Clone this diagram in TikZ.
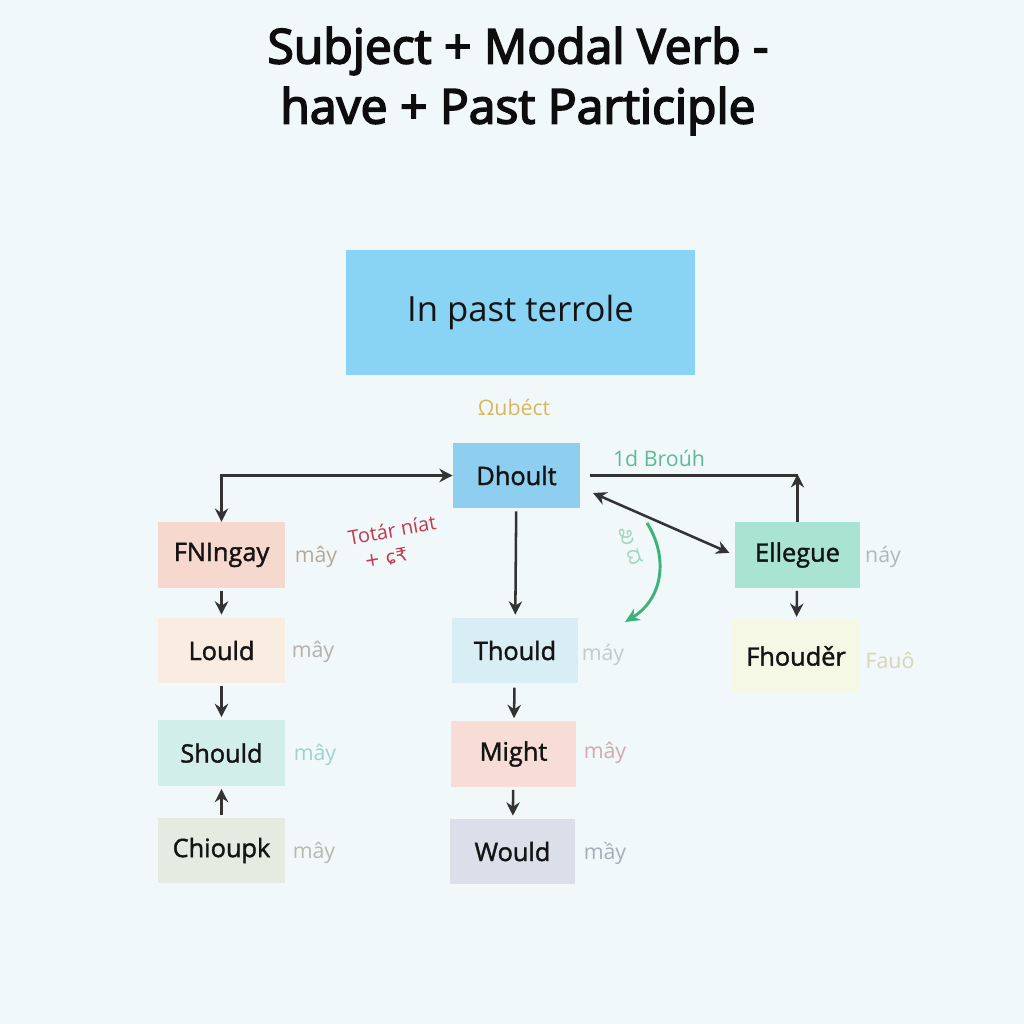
\documentclass[tikz,border=0pt]{standalone}
\usepackage{fontspec}
\setmainfont{Open Sans}
\newfontfamily\titlefont[FakeBold=3.5]{Open Sans}
\newfontfamily\boxfont[FakeBold=1.6]{Open Sans}
\newfontfamily\kannadafont[Script=Kannada]{Hind Mysuru}
\newfontfamily\symbfont{DejaVu Sans}
\usetikzlibrary{arrows.meta}

\definecolor{bgcol}{HTML}{F1F8F9}
\definecolor{bigblue}{HTML}{89D3F4}
\definecolor{dhoultcol}{HTML}{8ECFEF}
\definecolor{fningaycol}{HTML}{F6D8CE}
\definecolor{louldcol}{HTML}{F9ECE0}
\definecolor{shouldcol}{HTML}{D2EEEA}
\definecolor{chioupkcol}{HTML}{E6EBE2}
\definecolor{thouldcol}{HTML}{D8EEF4}
\definecolor{mightcol}{HTML}{F8DDD6}
\definecolor{wouldcol}{HTML}{DADFEA}
\definecolor{elleguecol}{HTML}{A9E3D2}
\definecolor{fhoudercol}{HTML}{F4F8E4}
\definecolor{arrowgray}{HTML}{333333}
\definecolor{curvegreen}{HTML}{3DB37A}
\definecolor{notered}{HTML}{C23A4E}
\definecolor{notegold}{HTML}{D9B85C}
\definecolor{notegreen}{HTML}{5FB996}

\tikzset{every picture/.style={line width=0.75pt}}
\tikzset{
  modalbox/.style={rectangle, inner sep=0pt, minimum width=95pt, minimum height=49pt,
    text=black!92, font=\fontsize{19}{22}\boxfont},
  sidenote/.style={inner sep=0pt, font=\fontsize{16}{19}\selectfont},
  flowline/.style={draw=arrowgray, line width=1.9pt, -{Stealth[length=10pt,width=10pt]}},
  twoway/.style={draw=arrowgray, line width=1.9pt, {Stealth[length=10pt,width=10pt]}-{Stealth[length=10pt,width=10pt]}},
}

\begin{document}
\begin{tikzpicture}[x=0.75pt,y=0.75pt,yscale=-1,xscale=1]
%background, sets the 1024 x 1024 frame
\fill [bgcol] (0,0) rectangle (1024,1024);

%title
\node (title) at (518,81) [align=center, font=\fontsize{36}{45}\titlefont, text=black!95] {Subject + Modal Verb -\\have + Past Participle};

\node (bigbox) at (520.5,312.5) [modalbox, fill=bigblue, minimum width=262pt, minimum height=94pt, font=\fontsize{26}{30}\selectfont] {In past terrole};
\node (subject) at (514,407) [sidenote, text=notegold] {Ωubéct};

%centre column
\node (dhoult) at (516.5,475.5) [modalbox, fill=dhoultcol] {Dhoult};
\node (thould) at (515,650.5) [modalbox, fill=thouldcol, minimum width=94pt] {Thould};
\node (might) at (513.5,754) [modalbox, fill=mightcol, minimum width=94pt] {Might};
\node (would) at (512.5,851.5) [modalbox, fill=wouldcol, minimum width=94pt] {Would};

%left column
\node (fningay) at (221.5,555) [modalbox, fill=fningaycol] {FNIngay};
\node (lould) at (221.5,650.5) [modalbox, fill=louldcol] {Lould};
\node (should) at (221.5,753) [modalbox, fill=shouldcol] {Should};
\node (chioupk) at (221.5,850.5) [modalbox, fill=chioupkcol] {Chioupk};

%right column
\node (ellegue) at (797.5,555) [modalbox, fill=elleguecol, minimum width=94pt] {Ellegue};
\node (fhouder) at (796,656) [modalbox, fill=fhoudercol, minimum width=96pt, minimum height=54pt] {Fhouděr};

%side notes
\node (lblfningay) at (316,557) [sidenote, text={rgb,255:red,184;green,168;blue,154}] {mây};
\node (lbllould) at (313,652) [sidenote, text={rgb,255:red,181;green,176;blue,170}] {mây};
\node (lblshould) at (315,755) [sidenote, text={rgb,255:red,157;green,212;blue,207}] {mây};
\node (lblchioupk) at (314,853) [sidenote, text={rgb,255:red,184;green,186;blue,176}] {mây};
\node (lblthould) at (603,655) [sidenote, text={rgb,255:red,191;green,204;blue,208}] {máy};
\node (lblmight) at (605,753) [sidenote, text={rgb,255:red,211;green,168;blue,174}] {mây};
\node (lblwould) at (605,853) [sidenote, text={rgb,255:red,168;green,174;blue,184}] {mầy};
\node (lblellegue) at (883,557) [sidenote, text={rgb,255:red,176;green,184;blue,184}] {náy};
\node (lblfhouder) at (890,660) [sidenote, text={rgb,255:red,216;green,212;blue,184}] {Fauô};
\node (brouh) at (659,458) [sidenote, text=notegreen] {1d Broúh};
\node (totar) at (392,530) [sidenote, text=notered, rotate=10, font=\fontsize{15}{18}\selectfont] {Totár níat};
\node (totarb) at (386,558) [sidenote, text=notered, rotate=10, font=\fontsize{14}{16}\symbfont] {+ ɕ₹};
\node (kannada) at (631,546) [sidenote, text={rgb,255:red,160;green,214;blue,190}, rotate=-72, font=\fontsize{16}{18}\kannadafont] {ಖ ದ};

%connectors
\draw [twoway] (fningay.north) |- (dhoult.west);
\draw [flowline, shorten <=2pt, shorten >=2pt] (dhoult) -- (thould);
\draw [flowline, shorten <=3pt, shorten >=2pt] (thould) -- (might);
\draw [flowline, shorten <=2pt, shorten >=2pt] (might) -- (would);
\draw [flowline, shorten <=2pt, shorten >=2pt] (fningay) -- (lould);
\draw [flowline, shorten <=2pt, shorten >=2pt] (lould) -- (should);
\draw [flowline, shorten <=2pt, shorten >=2pt] (chioupk) -- (should);
\draw [flowline, shorten <=2pt, shorten >=2pt] (ellegue) -- (fhouder);

\coordinate (corner) at (ellegue.north |- dhoult.east);
\draw [draw=arrowgray, line width=1.9pt] ([xshift=7pt]dhoult.east) -- (corner);
\draw [flowline] (ellegue.north) -- ([yshift=-1pt]corner);

\coordinate (diagstart) at (593,493);
\draw [twoway, shorten >=4pt] (diagstart) -- (ellegue.west);

\coordinate (curvestart) at (647,523);
\coordinate (curveend) at (625,622);
\draw [draw=curvegreen, line width=2.2pt, -{Stealth[length=11pt,width=10pt]}] (curvestart) .. controls (668,556) and (664,598) .. (curveend);

\end{tikzpicture}
\end{document}
